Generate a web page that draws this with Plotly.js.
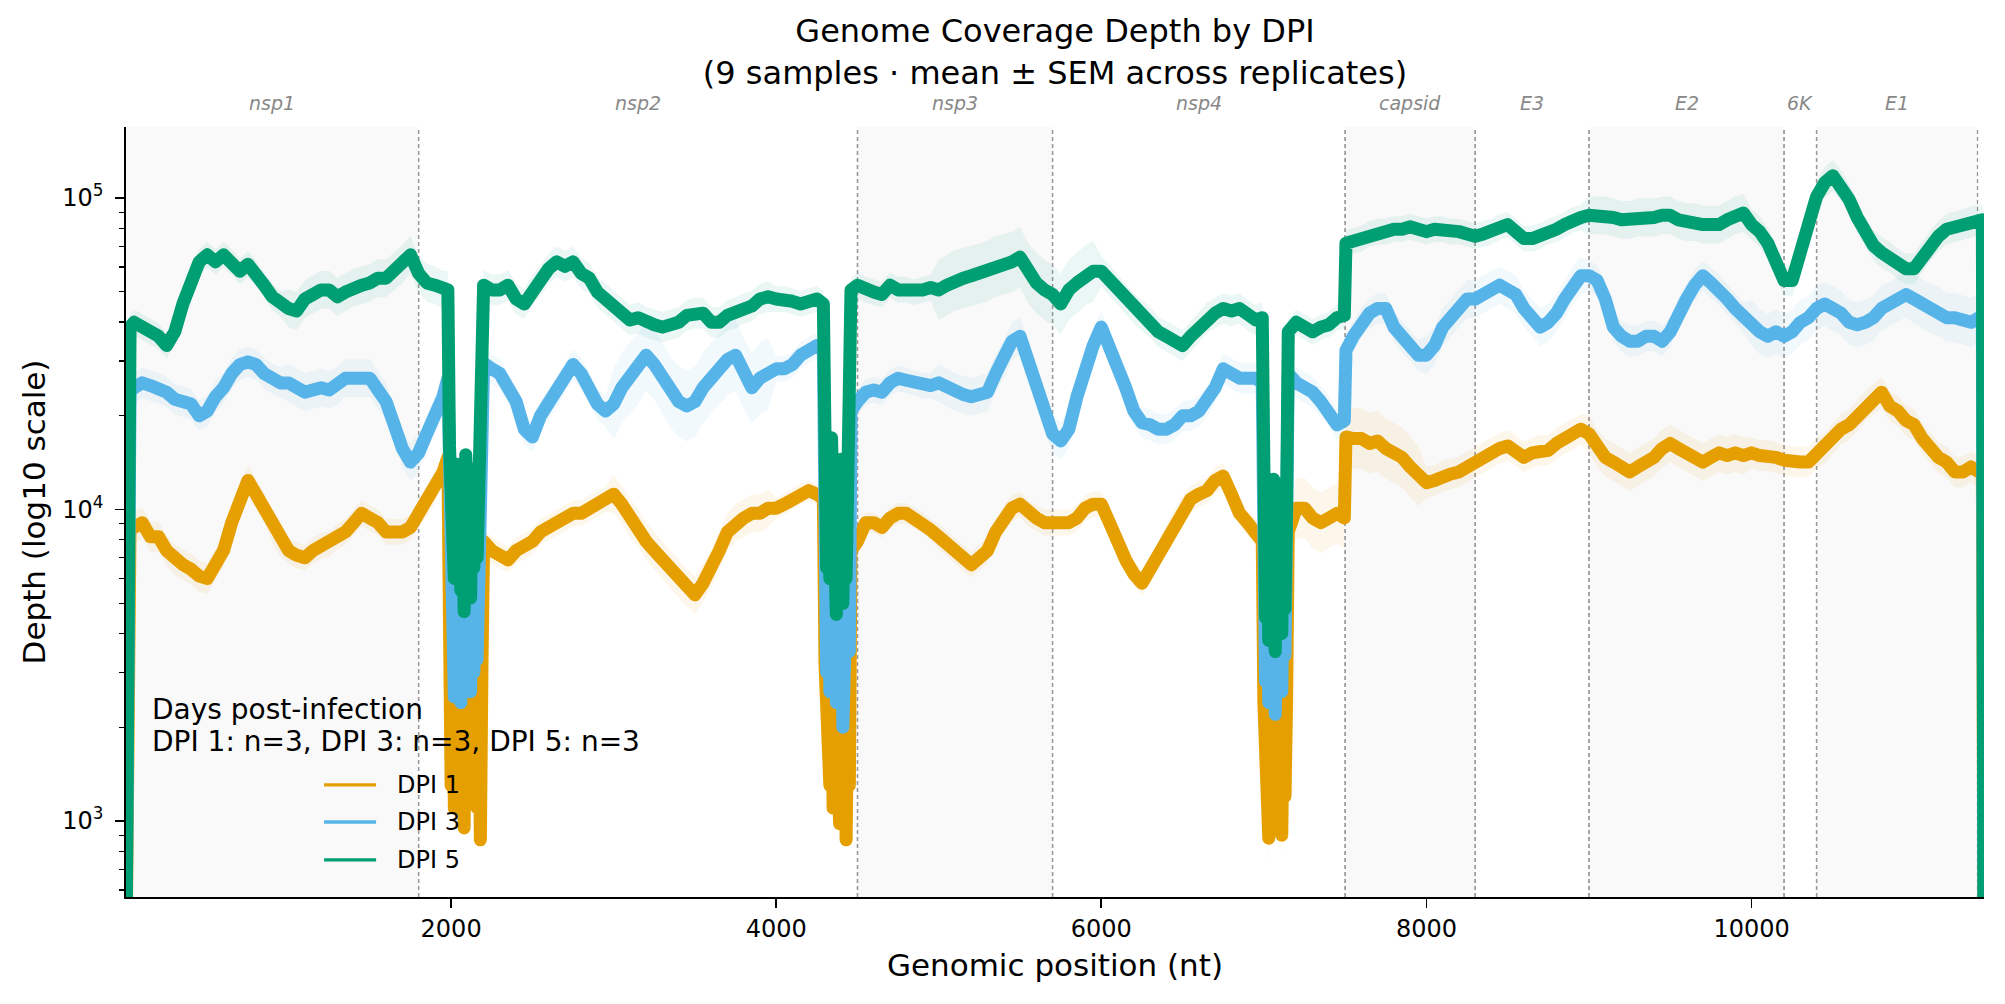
<!DOCTYPE html>
<html>
<head>
<meta charset="utf-8">
<script src="https://cdn.plot.ly/plotly-3.0.1.min.js"></script>
<style>
  html, body { margin: 0; padding: 0; background: #fff; }
  #graph { width: 2005px; height: 1004px; }
  #graph .scatterlayer .js-line { stroke-linejoin: round; }
</style>
</head>
<body>
<div id="graph"></div>
<script>
var pos = [
  1, 25, 50, 100, 150, 200, 250, 300, 350, 400,
  450, 500, 550, 600, 650, 700, 750, 800, 850, 900,
  950, 1000, 1050, 1100, 1150, 1200, 1250, 1300, 1350, 1400,
  1450, 1500, 1550, 1600, 1650, 1700, 1750, 1800, 1850, 1900,
  1950, 1980,
  // low coverage stretch 1
  1990, 2000, 2010, 2020, 2030, 2040, 2050, 2060, 2070, 2080,
  2090, 2100, 2110, 2120, 2130, 2140, 2150, 2160, 2170, 2180, 2190,
  2200, 2250, 2300, 2350, 2400, 2450, 2500, 2550, 2600, 2650,
  2700, 2750, 2800, 2850, 2900, 2950, 3000, 3050, 3100, 3150,
  3200, 3250, 3300, 3350, 3400, 3450, 3500, 3550, 3600, 3650,
  3700, 3750, 3800, 3850, 3900, 3950, 4000, 4050, 4100, 4150,
  4200, 4250, 4290,
  // low coverage stretch 2
  4300, 4310, 4320, 4330, 4340, 4350, 4360, 4370, 4380, 4390,
  4400, 4410, 4420, 4430, 4440, 4450,
  4460, 4500, 4550, 4600, 4650, 4700, 4750, 4800, 4850, 4900,
  4950, 5000, 5050, 5100, 5150, 5200, 5250, 5300, 5350, 5400,
  5450, 5500, 5550, 5600, 5650, 5700, 5750, 5800, 5850, 5900,
  5950, 6000, 6050, 6100, 6150, 6200, 6250, 6300, 6350, 6400,
  6450, 6500, 6550, 6600, 6650, 6700, 6750, 6800, 6850, 6900,
  6950, 6990,
  // low coverage stretch 3
  7000, 7010, 7020, 7030, 7040, 7050, 7060, 7070, 7080, 7090,
  7100, 7110, 7120, 7130, 7140,
  7150, 7200, 7250, 7300, 7350, 7400, 7450, 7495, 7505, 7550,
  7600, 7650, 7700, 7750, 7800, 7850, 7900, 7950, 8000, 8050,
  8100, 8150, 8200, 8250, 8300, 8350, 8400, 8450, 8500, 8550,
  8600, 8650, 8700, 8750, 8800, 8850, 8900, 8950, 9000, 9050,
  9100, 9150, 9200, 9250, 9300, 9350, 9400, 9450, 9500, 9550,
  9600, 9650, 9700, 9750, 9800, 9850, 9900, 9950, 10000, 10050,
  10100, 10150, 10200, 10250, 10300, 10350, 10400, 10450, 10500, 10550,
  10600, 10650, 10700, 10750, 10800, 10850, 10900, 10950, 11000, 11050,
  11100, 11150, 11200, 11250, 11300, 11350, 11400, 11420, 11430
];

// DPI 1 mean depth
var dpi1 = [
  400, 9070, 8760, 9070, 8180, 8180, 7380, 6890, 6650, 6430,
  6110, 6000, 6650, 7380, 9070, 10400, 12400, 11200, 10100, 8760,
  7900, 7380, 7130, 7000, 7380, 7640, 7770, 8180, 8470, 9070,
  9720, 9390, 9070, 8470, 8470, 8470, 8760, 9720, 10400, 11500,
  13200, 14700,
  3600, 1300, 3200, 1100, 2800, 1500, 3400, 1200, 2600, 950,
  3000, 1400, 2500, 1200, 2900, 1600, 2400, 1100, 2700, 870, 3200,
  7900, 7380, 7130, 6890, 7380, 7640, 7900, 8470, 8760, 9070,
  9390, 9720, 9720, 10100, 10400, 10800, 11200, 10400, 9390, 8760,
  7900, 7380, 6890, 6430, 6000, 5600, 5320, 5800, 6430, 7380,
  8470, 9070, 9390, 9720, 9720, 10100, 10100, 10400, 10800, 11200,
  11500, 11200, 10800,
  3200, 1400, 3000, 1300, 2800, 1100, 3300, 1500, 2700, 980,
  2500, 1200, 2900, 870, 2400, 1300,
  7380, 7900, 9070, 9070, 8760, 9390, 9720, 9720, 9390, 9070,
  8600, 8180, 7770, 7380, 7000, 6650, 7000, 7380, 8470, 9390,
  10100, 10400, 9720, 9390, 9070, 9070, 9070, 9070, 9390, 10100,
  10400, 10400, 9070, 7640, 6890, 6210, 5800, 6430, 7130, 8180,
  9070, 10100, 10800, 11200, 11500, 12400, 12800, 11200, 9720, 9070,
  8470, 7900,
  2400, 1100, 2200, 880, 2500, 1300, 2100, 1000, 2400, 1400,
  2200, 900, 2300, 1200, 2500,
  8470, 10100, 10100, 9390, 9070, 9390, 9720, 9390, 17100, 16900,
  16900, 16300, 16600, 15700, 15200, 14700, 13700, 12800, 12200, 12400,
  12800, 13000, 13200, 13700, 14200, 14700, 15200, 15700, 16000, 15500,
  14700, 15200, 15500, 15500, 16300, 16900, 17500, 18100, 17500, 15700,
  14700, 14200, 13700, 13200, 13700, 14200, 14700, 15700, 16300, 15700,
  15200, 14700, 14200, 14700, 15200, 14900, 15200, 14900, 15200, 14900,
  14900, 14700, 14400, 14200, 14200, 14200, 15200, 15700, 16900, 18100,
  18700, 20000, 21500, 22600, 23800, 21500, 20700, 19300, 18700, 16900,
  15700, 14700, 14200, 13200, 13200, 13700, 13200, 13200, 400
];

// DPI 3 mean depth
var dpi3 = [
  450, 23800, 24600, 25500, 25000, 24600, 23800, 22600, 22200, 21800,
  20000, 20700, 23000, 24600, 27300, 29200, 29800, 29200, 27300, 26400,
  25500, 25500, 24600, 23800, 24200, 24600, 24200, 25000, 26400, 26400,
  26400, 26400, 24200, 22200, 18700, 15700, 14200, 15200, 17500, 20000,
  23000, 26400,
  9000, 3000, 8000, 2500, 7500, 3200, 8500, 2400, 7000, 2800,
  8000, 3500, 7500, 2600, 8000, 3000, 7000, 3300, 8000, 3800, 8500,
  29500, 28300, 27300, 24600, 22200, 18100, 17100, 20000, 21800, 23800,
  26400, 29200, 27300, 24600, 21800, 20700, 21800, 24600, 26400, 28300,
  31300, 29200, 26400, 23800, 22200, 21500, 22200, 24600, 26400, 28300,
  30300, 31300, 27300, 24600, 26400, 27300, 28300, 28300, 29200, 31300,
  32400, 33600, 32400,
  9000, 3000, 8000, 2600, 8500, 3400, 7500, 2400, 7000, 3000,
  8000, 2000, 7500, 2800, 8000, 3500,
  20700, 22200, 23800, 24200, 23800, 25500, 26400, 26000, 25500, 25000,
  25000, 25500, 24600, 23800, 23400, 23000, 23400, 23800, 27300, 30300,
  34700, 36000, 30300, 25500, 20700, 17500, 16600, 18100, 23000, 28300,
  33600, 38500, 33600, 28300, 24600, 20700, 19000, 18700, 18100, 18100,
  18700, 20000, 20000, 20700, 22200, 24600, 28300, 27300, 26400, 26400,
  26400, 25500,
  7000, 2800, 6500, 2400, 7000, 3200, 6000, 2200, 6500, 3000,
  7000, 2600, 6000, 3400, 7500,
  27300, 25500, 24600, 23800, 22200, 20700, 18700, 19300, 32400, 36000,
  39900, 42700, 44200, 44200, 38500, 36000, 33600, 31300, 31300, 33600,
  38500, 41300, 44200, 47400, 47400, 49000, 50700, 52500, 50700, 49000,
  44200, 41300, 38500, 39900, 42700, 47400, 52500, 56300, 56300, 54400,
  47400, 38500, 36000, 34700, 34700, 36000, 36000, 34700, 37200, 42700,
  47400, 52500, 56300, 53400, 50700, 47400, 44200, 41300, 39900, 37200,
  36000, 37200, 36000, 37200, 39900, 41300, 44200, 45700, 44200, 42700,
  39900, 39200, 39900, 41300, 44200, 45700, 47400, 49000, 47400, 45700,
  44200, 43400, 41300, 41300, 40600, 39900, 41300, 41300, 450
];

// DPI 5 mean depth
var dpi5 = [
  450, 38500, 39900, 38500, 37200, 36000, 33600, 37200, 45700, 54400,
  62400, 65700, 62400, 65700, 62400, 58200, 61300, 57300, 52500, 48200,
  45700, 44200, 43400, 47400, 49000, 50700, 50700, 48200, 49900, 51600,
  52500, 53400, 55300, 55300, 58200, 61300, 65700, 57300, 53400, 52500,
  50700, 50700,
  16000, 6500, 15000, 6000, 14000, 7000, 12500, 5500, 13000, 4700,
  15000, 6000, 14500, 5200, 13500, 6500, 12000, 7000, 13000, 7500, 14000,
  52500, 50700, 50700, 52500, 47400, 45700, 50700, 54400, 59300, 62400,
  60300, 62400, 57300, 55300, 49900, 47400, 45000, 42700, 40600, 41300,
  39900, 39200, 38500, 39200, 39900, 42000, 42700, 42700, 39900, 39900,
  42000, 42700, 44200, 45000, 47400, 48200, 47400, 47400, 46600, 45700,
  46600, 47400, 45700,
  12500, 6500, 13500, 6000, 17000, 5500, 15000, 4600, 14000, 6500,
  14500, 5000, 14000, 6000, 14500, 7000,
  50700, 52500, 50700, 49900, 49000, 52500, 50700, 50700, 49900, 50700,
  51600, 50700, 52500, 54400, 55300, 56300, 57300, 58200, 60300, 61300,
  62400, 64600, 57300, 53400, 50700, 49000, 45700, 50700, 53400, 56300,
  58200, 58200, 54400, 50700, 47400, 44200, 42000, 39900, 37200, 36000,
  34700, 33600, 36000, 38500, 41300, 42700, 44200, 43400, 44200, 42000,
  40600, 41300,
  10500, 4500, 11000, 3800, 12000, 4200, 12500, 3500, 11500, 4600,
  12000, 4000, 11000, 4800, 10500,
  37200, 39900, 38500, 37200, 38500, 39200, 41300, 42000, 71600, 72800,
  74100, 76700, 78000, 78000, 79400, 79400, 80800, 79400, 78000, 79400,
  79400, 78000, 78000, 76700, 75400, 76700, 78000, 80800, 82200, 78000,
  74100, 74100, 75400, 78000, 79400, 82200, 85100, 86600, 88000, 88000,
  88000, 86600, 85100, 85100, 86600, 86600, 86600, 88000, 88000, 85100,
  83700, 83700, 82200, 82200, 82200, 85100, 88000, 89500, 82200, 78000,
  71600, 62400, 54400, 54400, 64600, 82200, 101000, 112000, 118000, 110000,
  99000, 86600, 78000, 70400, 66800, 64600, 61300, 59300, 59300, 64600,
  70400, 75400, 79400, 80800, 82200, 83700, 85100, 85100, 450
];

// relative SEM across replicates, one value per 1000 nt window
var sem1 = [0.12, 0.10, 0.10, 0.15, 0.08, 0.10, 0.10, 0.25, 0.12, 0.15, 0.12, 0.12];
var sem3 = [0.12, 0.15, 0.12, 0.30, 0.10, 0.15, 0.12, 0.12, 0.15, 0.12, 0.18, 0.20];
var sem5 = [0.10, 0.15, 0.12, 0.12, 0.10, 0.25, 0.12, 0.10, 0.10, 0.15, 0.12, 0.12];

var seriesNames = ['DPI 1', 'DPI 3', 'DPI 5'];
var seriesColors = ['#E69F00', '#56B4E9', '#009E73'];
var bandColors = ['rgba(230,159,0,0.08)', 'rgba(86,180,233,0.08)', 'rgba(0,158,115,0.08)'];
var legendTitle = ['Days post-infection', 'DPI 1: n=3, DPI 3: n=3, DPI 5: n=3'];

var geneNames = ['nsp1', 'nsp2', 'nsp3', 'nsp4', 'capsid', 'E3', 'E2', '6K', 'E1'];
var geneStart = [0, 1800, 4500, 5700, 7500, 8300, 9000, 10200, 10400];
var geneEnd = [1800, 4500, 5700, 7500, 8300, 9000, 10200, 10400, 11390];

var xTickVals = [2000, 4000, 6000, 8000, 10000];
var xTickText = ['2000', '4000', '6000', '8000', '10000'];
var yTickVals = [1000, 10000, 100000];
var yTickText = ['10<sup>3</sup>', '10<sup>4</sup>', '10<sup>5</sup>'];
var yMinorVals = [600, 700, 800, 900, 2000, 3000, 4000, 5000, 6000, 7000, 8000, 9000,
                  20000, 30000, 40000, 50000, 60000, 70000, 80000, 90000];

var means = [dpi1, dpi3, dpi5];
var sems = [sem1, sem3, sem5];
means.forEach(function (m, i) {
  if (m.length !== pos.length) console.error(seriesNames[i] + ' length ' + m.length + ' vs ' + pos.length);
});

var data = [];
for (var i = 0; i < 3; i++) {
  var up = [], lo = [];
  for (var j = 0; j < pos.length; j++) {
    var s = sems[i][Math.floor(pos[j] / 1000)];
    up.push(means[i][j] * (1 + s));
    lo.push(means[i][j] / (1 + s));
  }
  data.push({
    x: pos.concat(pos.slice().reverse()),
    y: up.concat(lo.reverse()),
    type: 'scatter', mode: 'lines', fill: 'toself',
    fillcolor: bandColors[i], line: {width: 0},
    hoverinfo: 'skip', showlegend: false
  });
  // per-base depth is noisy, so the mean trace reads as a thick band
  data.push({
    x: pos, y: means[i],
    type: 'scatter', mode: 'lines', name: seriesNames[i],
    line: {color: seriesColors[i], width: 13},
    showlegend: false
  });
}

var shapes = [];
var annotations = [];
for (var g = 0; g < geneNames.length; g++) {
  if (g % 2 === 0) {
    shapes.push({type: 'rect', xref: 'x', yref: 'paper', x0: geneStart[g], x1: geneEnd[g], y0: 0, y1: 1,
                 fillcolor: 'rgba(0,0,0,0.025)', line: {width: 0}, layer: 'below'});
  }
  [geneStart[g], geneEnd[g]].forEach(function (b) {
    if (b === 0) return;
    shapes.push({type: 'line', xref: 'x', yref: 'paper', x0: b, x1: b, y0: 0, y1: 1,
                 line: {color: '#999', width: 1.3, dash: '4px,3px'}, layer: 'below'});
  });
  annotations.push({
    text: '<i>' + geneNames[g] + '</i>', xref: 'x', yref: 'paper',
    x: (geneStart[g] + geneEnd[g]) / 2, y: 1.0312, showarrow: false,
    xanchor: 'center', yanchor: 'middle',
    font: {size: 19, color: '#888'}
  });
}

// legend drawn by hand (matplotlib-style: title block, entries below)
var legTitleY = [0.2429, 0.2013];
legendTitle.forEach(function (t, k) {
  annotations.push({text: t, xref: 'paper', yref: 'paper', x: 0.0127, y: legTitleY[k],
    xanchor: 'left', yanchor: 'middle', showarrow: false, font: {size: 28}});
});
var legItemY = [0.1455, 0.0974, 0.0481];
for (var k = 0; k < 3; k++) {
  shapes.push({type: 'line', xref: 'paper', yref: 'paper', x0: 0.1066, x1: 0.1346,
               y0: legItemY[k], y1: legItemY[k], line: {color: seriesColors[k], width: 3.3}});
  annotations.push({text: seriesNames[k], xref: 'paper', yref: 'paper', x: 0.1448, y: legItemY[k],
    xanchor: 'left', yanchor: 'middle', showarrow: false, font: {size: 24}});
}

var layout = {
  width: 2005, height: 1004,
  margin: {l: 126, r: 21, t: 127, b: 107},
  paper_bgcolor: '#fff', plot_bgcolor: '#fff',
  font: {family: 'DejaVu Sans', color: '#000', size: 24},
  title: {
    text: 'Genome Coverage Depth by DPI<br>(9 samples · mean ± SEM across replicates)',
    font: {size: 32}, x: 0.5, xref: 'paper', xanchor: 'center',
    y: 0.958, yref: 'container', yanchor: 'middle'
  },
  showlegend: false,
  xaxis: {
    range: [0, 11430], tickvals: xTickVals, ticktext: xTickText, ticks: 'outside', ticklen: 9, tickwidth: 1.8,
    tickcolor: '#000', showline: true, linewidth: 1.8, linecolor: '#000',
    showgrid: false, zeroline: false, tickfont: {size: 24},
    title: {text: 'Genomic position (nt)', font: {size: 31}, standoff: 13}
  },
  yaxis: {
    type: 'log', range: [2.756, 5.228], tickvals: yTickVals, ticktext: yTickText,
    ticks: 'outside', ticklen: 9, tickwidth: 1.8, tickcolor: '#000', ticklabelstandoff: 7,
    showline: true, linewidth: 1.8, linecolor: '#000',
    showgrid: false, zeroline: false, tickfont: {size: 24},
    minor: {tickvals: yMinorVals, ticks: 'outside', ticklen: 5, tickwidth: 1.3, tickcolor: '#000', showgrid: false},
    title: {text: 'Depth (log10 scale)', font: {size: 31}, standoff: 7}
  },
  shapes: shapes,
  annotations: annotations
};

Plotly.newPlot('graph', data, layout, {staticPlot: true});
</script>
</body>
</html>
